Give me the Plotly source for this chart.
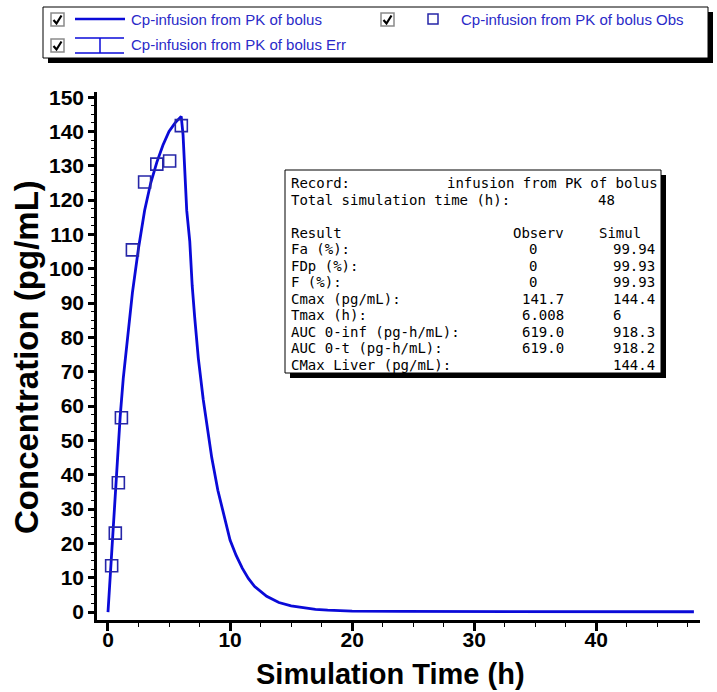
import plotly.graph_objects as go

# ---------------- data ----------------
sim_time = [0, 0.1, 0.2, 0.4, 0.6, 0.8, 1.0, 1.25, 1.5, 1.75, 2.0, 2.5, 3.0, 3.5, 4.0,
            4.5, 5.0, 5.5, 6.0, 6.15, 6.3, 6.45, 6.7, 6.9, 7.1, 7.4, 7.8, 8.2, 8.5,
            9.0, 9.5, 10.0, 10.5, 11.0, 11.5, 12.0, 13.0, 14.0, 15.0, 16.0, 17.0,
            18.0, 20.0, 24.0, 30.0, 36.0, 42.0, 48.0]
sim_conc = [0, 6, 12.5, 24, 35, 46, 57, 68, 77, 85, 93, 106, 117, 125, 131,
            136, 140, 142.5, 144.4, 139, 128, 117, 108, 95, 86, 74, 62, 52, 45,
            35.5, 28, 21, 16.5, 12.8, 9.8, 7.5, 4.6, 2.8, 1.8, 1.2, 0.8,
            0.55, 0.3, 0.2, 0.15, 0.12, 0.1, 0.1]

obs_time = [0.3, 0.6, 0.85, 1.1, 2.0, 3.0, 4.0, 5.05, 6.008]
obs_conc = [13.5, 23.0, 37.7, 56.6, 105.5, 125.3, 130.5, 131.4, 141.7]

legend_names = ["Cp-infusion from PK of bolus",
                "Cp-infusion from PK of bolus Obs",
                "Cp-infusion from PK of bolus Err"]

stat_record = "infusion from PK of bolus"
stat_total_label = "Total simulation time (h):"
stat_total_value = "48"
stat_headers = ["Result", "Observ", "Simul"]
stat_labels = ["Fa (%):", "FDp (%):", "F (%):", "Cmax (pg/mL):", "Tmax (h):",
               "AUC 0-inf (pg-h/mL):", "AUC 0-t (pg-h/mL):", "CMax Liver (pg/mL):"]
stat_observ = ["0", "0", "0", "141.7", "6.008", "619.0", "619.0", ""]
stat_simul = ["99.94", "99.93", "99.93", "144.4", "6", "918.3", "918.2", "144.4"]

x_ticks = [0, 10, 20, 30, 40]
y_ticks = list(range(0, 151, 10))

x_title = "Simulation Time (h)"
y_title = "Concentration (pg/mL)"

# ---------------- geometry ----------------
W, H = 717, 692
L, R, T, B = 97, 17, 92, 72
PW, PH = W - L - R, H - T - B


def X(px):
    return (px - L) / PW


def Y(py):
    return (H - B - py) / PH


LINE_BLUE = "#0a0ad8"
OBS_BLUE = "#2626a8"
TEXT_BLUE = "#2a2ac8"
BOLD = dict(family="Liberation Sans, Arial", color="black", weight="bold")
MONO = "DejaVu Sans Mono"

fig = go.Figure()
fig.add_trace(go.Scatter(x=sim_time, y=sim_conc, mode="lines",
                         line=dict(color=LINE_BLUE, width=2.8),
                         name=legend_names[0], showlegend=False))
fig.add_trace(go.Scatter(x=obs_time, y=obs_conc, mode="markers",
                         marker=dict(symbol="square-open", size=12,
                                     line=dict(color=OBS_BLUE, width=1.6),
                                     color=OBS_BLUE),
                         name=legend_names[1], showlegend=False))

shapes = []
annotations = []


def rect(x0, y0, x1, y1, fill="white", line="black", lw=1):
    shapes.append(dict(type="rect", xref="paper", yref="paper",
                       x0=X(x0), x1=X(x1), y0=Y(y0), y1=Y(y1),
                       fillcolor=fill, line=dict(color=line, width=lw)))


def seg(x0, y0, x1, y1, color, lw):
    shapes.append(dict(type="line", xref="paper", yref="paper",
                       x0=X(x0), x1=X(x1), y0=Y(y0), y1=Y(y1),
                       line=dict(color=color, width=lw)))


def text(px, py, s, font, anchor="left"):
    annotations.append(dict(xref="paper", yref="paper", x=X(px), y=Y(py),
                            text=s, showarrow=False, xanchor=anchor,
                            yanchor="middle", font=font, borderpad=0))


def checkbox(x0, y0):
    rect(x0, y0, x0 + 13, y0 + 13, fill="white", line="#8a8a8a", lw=1.5)
    pts = [(x0 + 2.5, y0 + 7), (x0 + 5.5, y0 + 10.5), (x0 + 10.5, y0 + 2.5)]
    path = "M " + " L ".join(f"{X(a):.5f},{Y(b):.5f}" for a, b in pts)
    shapes.append(dict(type="path", xref="paper", yref="paper", path=path,
                       line=dict(color="black", width=2.2)))


# ---- legend panel ----
rect(48, 12, 713, 63, fill="black", line="black", lw=0)
rect(43, 7, 708, 58, fill="white", line="black", lw=1)
checkbox(51, 13)
checkbox(51, 39)
checkbox(381, 13)
seg(75, 19, 125, 19, LINE_BLUE, 2.5)
seg(75, 38, 124, 38, LINE_BLUE, 1.5)
seg(75, 53, 124, 53, LINE_BLUE, 1.5)
seg(100, 38, 100, 53, LINE_BLUE, 1.5)
rect(428, 14, 438, 24, fill="white", line=OBS_BLUE, lw=1.5)
leg_font = dict(family="Liberation Sans, Arial", size=15, color=TEXT_BLUE)
text(130, 19, legend_names[0], leg_font)
text(460, 19, legend_names[1], leg_font)
text(130, 45, legend_names[2], leg_font)

# ---- statistics box ----
rect(290, 175, 666, 378, fill="black", line="black", lw=0)
rect(285, 170, 661, 373, fill="white", line="black", lw=1)
mono = dict(family=MONO, size=14, color="black")
row0 = 183
dy = 16.5
text(290, row0, "Record:", mono)
text(659, row0, stat_record, mono, anchor="right")
text(290, row0 + dy, stat_total_label, mono)
text(597, row0 + dy, stat_total_value, mono)
text(290, row0 + 3 * dy, stat_headers[0], mono)
text(512, row0 + 3 * dy, stat_headers[1], mono)
text(598, row0 + 3 * dy, stat_headers[2], mono)
for i, (lab, ob, si) in enumerate(zip(stat_labels, stat_observ, stat_simul)):
    yy = row0 + (4 + i) * dy
    text(290, yy, lab, mono)
    if ob:
        text(521 if len(ob) > 1 else 528, yy, ob, mono)
    text(612, yy, si, mono)

# ---- axis titles ----
annotations.append(dict(xref="paper", yref="paper", x=X(390), y=Y(674),
                        text=x_title, showarrow=False, xanchor="center",
                        yanchor="middle", font=dict(BOLD, size=29)))
annotations.append(dict(xref="paper", yref="paper", x=X(26), y=Y(357),
                        text=y_title, showarrow=False, xanchor="center",
                        yanchor="middle", textangle=-90,
                        font=dict(BOLD, size=33)))

fig.update_layout(
    width=W, height=H,
    margin=dict(l=L, r=R, t=T, b=B, pad=0),
    paper_bgcolor="white", plot_bgcolor="white",
    showlegend=False,
    shapes=shapes, annotations=annotations,
    xaxis=dict(range=[-0.9, 48.5], tickvals=x_ticks,
               ticktext=[str(v) for v in x_ticks],
               showgrid=False, zeroline=False, showline=True,
               linecolor="black", linewidth=2.5,
               ticks="outside", ticklen=8, tickwidth=2.5, tickcolor="black",
               ticklabelstandoff=-9,
               minor=dict(ticks="outside", ticklen=4, tickwidth=1.2,
                          tickcolor="black", dtick=2.5, showgrid=False),
               tickfont=dict(BOLD, size=21)),
    yaxis=dict(range=[-2.3, 151.5], tickvals=y_ticks,
               ticktext=[str(v) for v in y_ticks],
               showgrid=False, zeroline=False, showline=True,
               linecolor="black", linewidth=2.5,
               ticks="outside", ticklen=6, tickwidth=2.5, tickcolor="black",
               minor=dict(ticks="outside", ticklen=3, tickwidth=1.2,
                          tickcolor="black", dtick=2.5, showgrid=False),
               tickfont=dict(BOLD, size=21)),
)

fig.write_html("out.html")
